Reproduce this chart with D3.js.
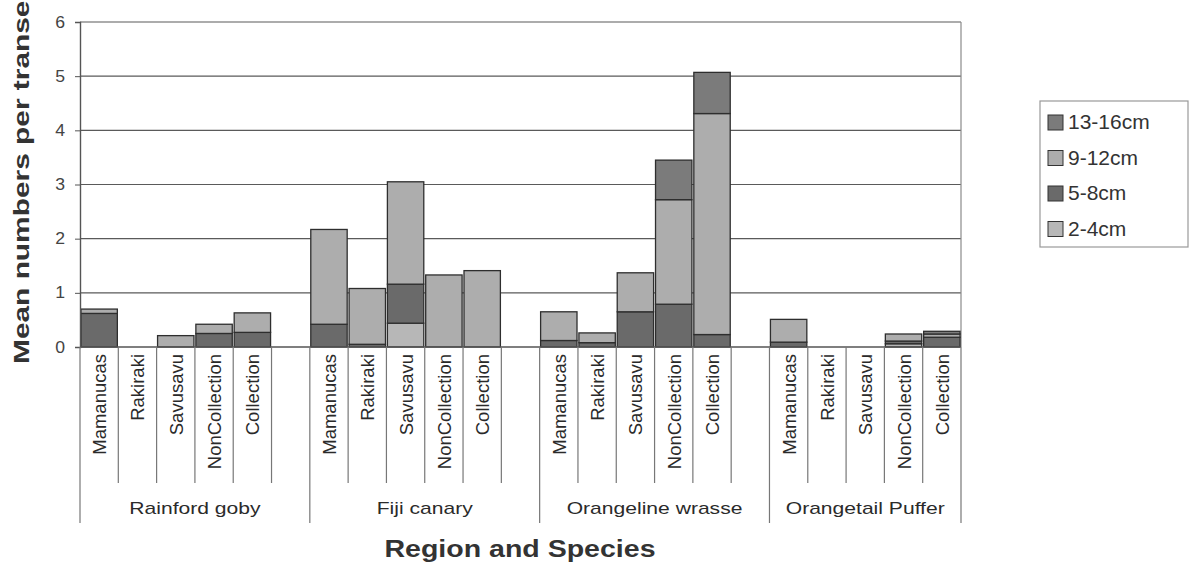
<!DOCTYPE html>
<html>
<head>
<meta charset="utf-8">
<script src="https://cdn.jsdelivr.net/npm/d3@7"></script>
<style>
  body { margin: 0; background: #fff; }
  svg { display: block; font-family: Arial, "Liberation Sans", sans-serif; }
</style>
</head>
<body>
<svg id="chart" width="1192" height="568"></svg>
<script>
// species groups and regions (x axis, two levels)
var groups = ["Rainford goby", "Fiji canary", "Orangeline wrasse", "Orangetail Puffer"]
var regions = ["Mamanucas", "Rakiraki", "Savusavu", "NonCollection", "Collection"]

// size classes, bottom of the stack first
var sizeClasses = ["2-4cm", "5-8cm", "9-12cm", "13-16cm"]

// values, order: group x region
var size2to4 = [0, 0, 0, 0, 0, 0, 0, 0.44, 0, 0, 0, 0, 0, 0, 0, 0, 0, 0, 0.06, 0]
var size5to8 = [0.62, 0, 0, 0.25, 0.27, 0.42, 0.05, 0.72, 0, 0, 0.12, 0.08, 0.65, 0.79, 0.23, 0.09, 0, 0, 0.05, 0.18]
var size9to12 = [0.08, 0, 0.21, 0.17, 0.36, 1.75, 1.03, 1.89, 1.33, 1.41, 0.53, 0.18, 0.72, 1.93, 4.08, 0.42, 0, 0, 0.13, 0.06]
var size13to16 = [0, 0, 0, 0, 0, 0, 0, 0, 0, 0, 0, 0, 0, 0.73, 0.76, 0, 0, 0, 0, 0.05]

var yTicks = [0, 1, 2, 3, 4, 5, 6]

var colors = { "2-4cm": "#b7b7b7", "5-8cm": "#6a6a6a", "9-12cm": "#adadad", "13-16cm": "#7b7b7b" }

// build rows, one per slot; a blank slot after each group except the last
var seriesValues = [size2to4, size5to8, size9to12, size13to16]
var rows = []
var slots = []
groups.forEach(function(g, gi) {
    regions.forEach(function(r, ri) {
        var row = { key: g + "|" + r, group: g, region: r }
        sizeClasses.forEach(function(s, si) { row[s] = seriesValues[si][gi * regions.length + ri] })
        rows.push(row)
        slots.push(row.key)
    })
    if (gi < groups.length - 1) slots.push(g + "|blank")
})

var margin = { left: 80, top: 22, right: 231, bottom: 221 },
    width = 1192 - margin.left - margin.right,
    height = 568 - margin.top - margin.bottom

var svg = d3.select("#chart")
var chart = svg.append("g").attr("transform", "translate(" + margin.left + "," + margin.top + ")")

var x = d3.scaleBand().domain(slots).range([0, width]).paddingInner(0.05).paddingOuter(0.025)
var y = d3.scaleLinear().domain([0, 6]).range([height, 0])

// stretch horizontal text a bit like the scanned original
function stretch(sel, k) {
    sel.each(function() {
        var w = this.getComputedTextLength()
        d3.select(this).attr("textLength", w * k).attr("lengthAdjust", "spacingAndGlyphs")
    })
}

// grid lines
chart.append("g")
    .selectAll("line")
    .data(yTicks.slice(1))
    .join("line")
    .attr("x1", 0).attr("x2", width)
    .attr("y1", d => y(d)).attr("y2", d => y(d))
    .attr("stroke", "#5a5a5a").attr("stroke-width", 1.2)

// right border
chart.append("line")
    .attr("x1", width).attr("x2", width).attr("y1", 0).attr("y2", height)
    .attr("stroke", "#8a8a8a").attr("stroke-width", 1.2)

// stacked bars
var stack = d3.stack().keys(sizeClasses)
var layers = stack(rows)

chart.append("g")
    .selectAll("g")
    .data(layers)
    .join("g")
    .attr("fill", d => colors[d.key])
    .selectAll("rect")
    .data(d => d.filter(p => p[1] - p[0] > 0))
    .join("rect")
    .attr("x", d => x(d.data.key))
    .attr("width", x.bandwidth())
    .attr("y", d => y(d[1]))
    .attr("height", d => y(d[0]) - y(d[1]))
    .attr("stroke", "#2e2e2e")
    .attr("stroke-width", 1.3)

// y axis
var yAxis = d3.axisLeft(y).tickValues(yTicks).tickFormat(d3.format("d")).tickSize(5).tickPadding(10)
var yg = chart.append("g").call(yAxis)
yg.select(".domain").attr("stroke", "#555").attr("stroke-width", 1.4)
yg.selectAll(".tick line").attr("stroke", "#555")
yg.selectAll(".tick text").attr("font-size", 16).attr("fill", "#444").call(stretch, 1.1)

// x axis line
chart.append("line")
    .attr("x1", 0).attr("x2", width).attr("y1", height).attr("y2", height)
    .attr("stroke", "#555").attr("stroke-width", 1.4)

// slot separators
var step = x.step()
var slotEdges = slots.map(s => x(s) - x.paddingInner() * step / 2)
slotEdges.push(width)
var groupEdges = [0]
groups.forEach(function(g, gi) {
    var last = gi < groups.length - 1 ? g + "|blank" : g + "|" + regions[regions.length - 1]
    groupEdges.push(gi < groups.length - 1 ? x(last) + x.bandwidth() + x.paddingInner() * step / 2 : width)
})

chart.append("g")
    .selectAll("line")
    .data(slotEdges.filter(e => groupEdges.every(ge => Math.abs(ge - e) > 1)))
    .join("line")
    .attr("x1", d => d).attr("x2", d => d)
    .attr("y1", height).attr("y2", height + 136)
    .attr("stroke", "#777").attr("stroke-width", 1.2)

chart.append("g")
    .selectAll("line")
    .data(groupEdges)
    .join("line")
    .attr("x1", d => d).attr("x2", d => d)
    .attr("y1", height).attr("y2", height + 176)
    .attr("stroke", "#777").attr("stroke-width", 1.2)

// region labels, rotated
chart.append("g")
    .selectAll("text")
    .data(rows)
    .join("text")
    .attr("transform", d => "translate(" + (x(d.key) + x.bandwidth() / 2 + 7) + "," + (height + 7) + ") rotate(-90)")
    .attr("text-anchor", "end")
    .attr("font-size", 18.5)
    .attr("fill", "#2a2a2a")
    .text(d => d.region)

// group labels
chart.append("g")
    .selectAll("text")
    .data(groups)
    .join("text")
    .attr("x", (d, i) => (groupEdges[i] + groupEdges[i + 1]) / 2)
    .attr("y", height + 167)
    .attr("text-anchor", "middle")
    .attr("font-size", 17)
    .attr("fill", "#2a2a2a")
    .text(d => d)
    .call(stretch, 1.24)

// axis titles
svg.append("text")
    .attr("x", 520)
    .attr("y", 557)
    .attr("text-anchor", "middle")
    .attr("font-size", 23)
    .attr("font-weight", "bold")
    .attr("fill", "#333")
    .text("Region and Species")
    .call(stretch, 1.24)

svg.append("text")
    .attr("transform", "translate(29,364) rotate(-90)")
    .attr("text-anchor", "start")
    .attr("font-size", 22)
    .attr("font-weight", "bold")
    .attr("fill", "#333")
    .attr("textLength", 390)
    .attr("lengthAdjust", "spacingAndGlyphs")
    .text("Mean numbers per transect")

// legend, top entry is the top of the stack
var legendItems = sizeClasses.slice().reverse()
var legend = svg.append("g").attr("transform", "translate(1040,101)")
legend.append("rect")
    .attr("width", 148).attr("height", 146)
    .attr("fill", "#fff").attr("stroke", "#999").attr("stroke-width", 1.2)
var li = legend.selectAll("g.item")
    .data(legendItems)
    .join("g")
    .attr("class", "item")
    .attr("transform", (d, i) => "translate(8," + (14 + i * 35.5) + ")")
li.append("rect")
    .attr("width", 15).attr("height", 15)
    .attr("fill", d => colors[d])
    .attr("stroke", "#333").attr("stroke-width", 1)
li.append("text")
    .attr("x", 20).attr("y", 14)
    .attr("font-size", 21)
    .attr("fill", "#333")
    .text(d => d)
</script>
</body>
</html>
